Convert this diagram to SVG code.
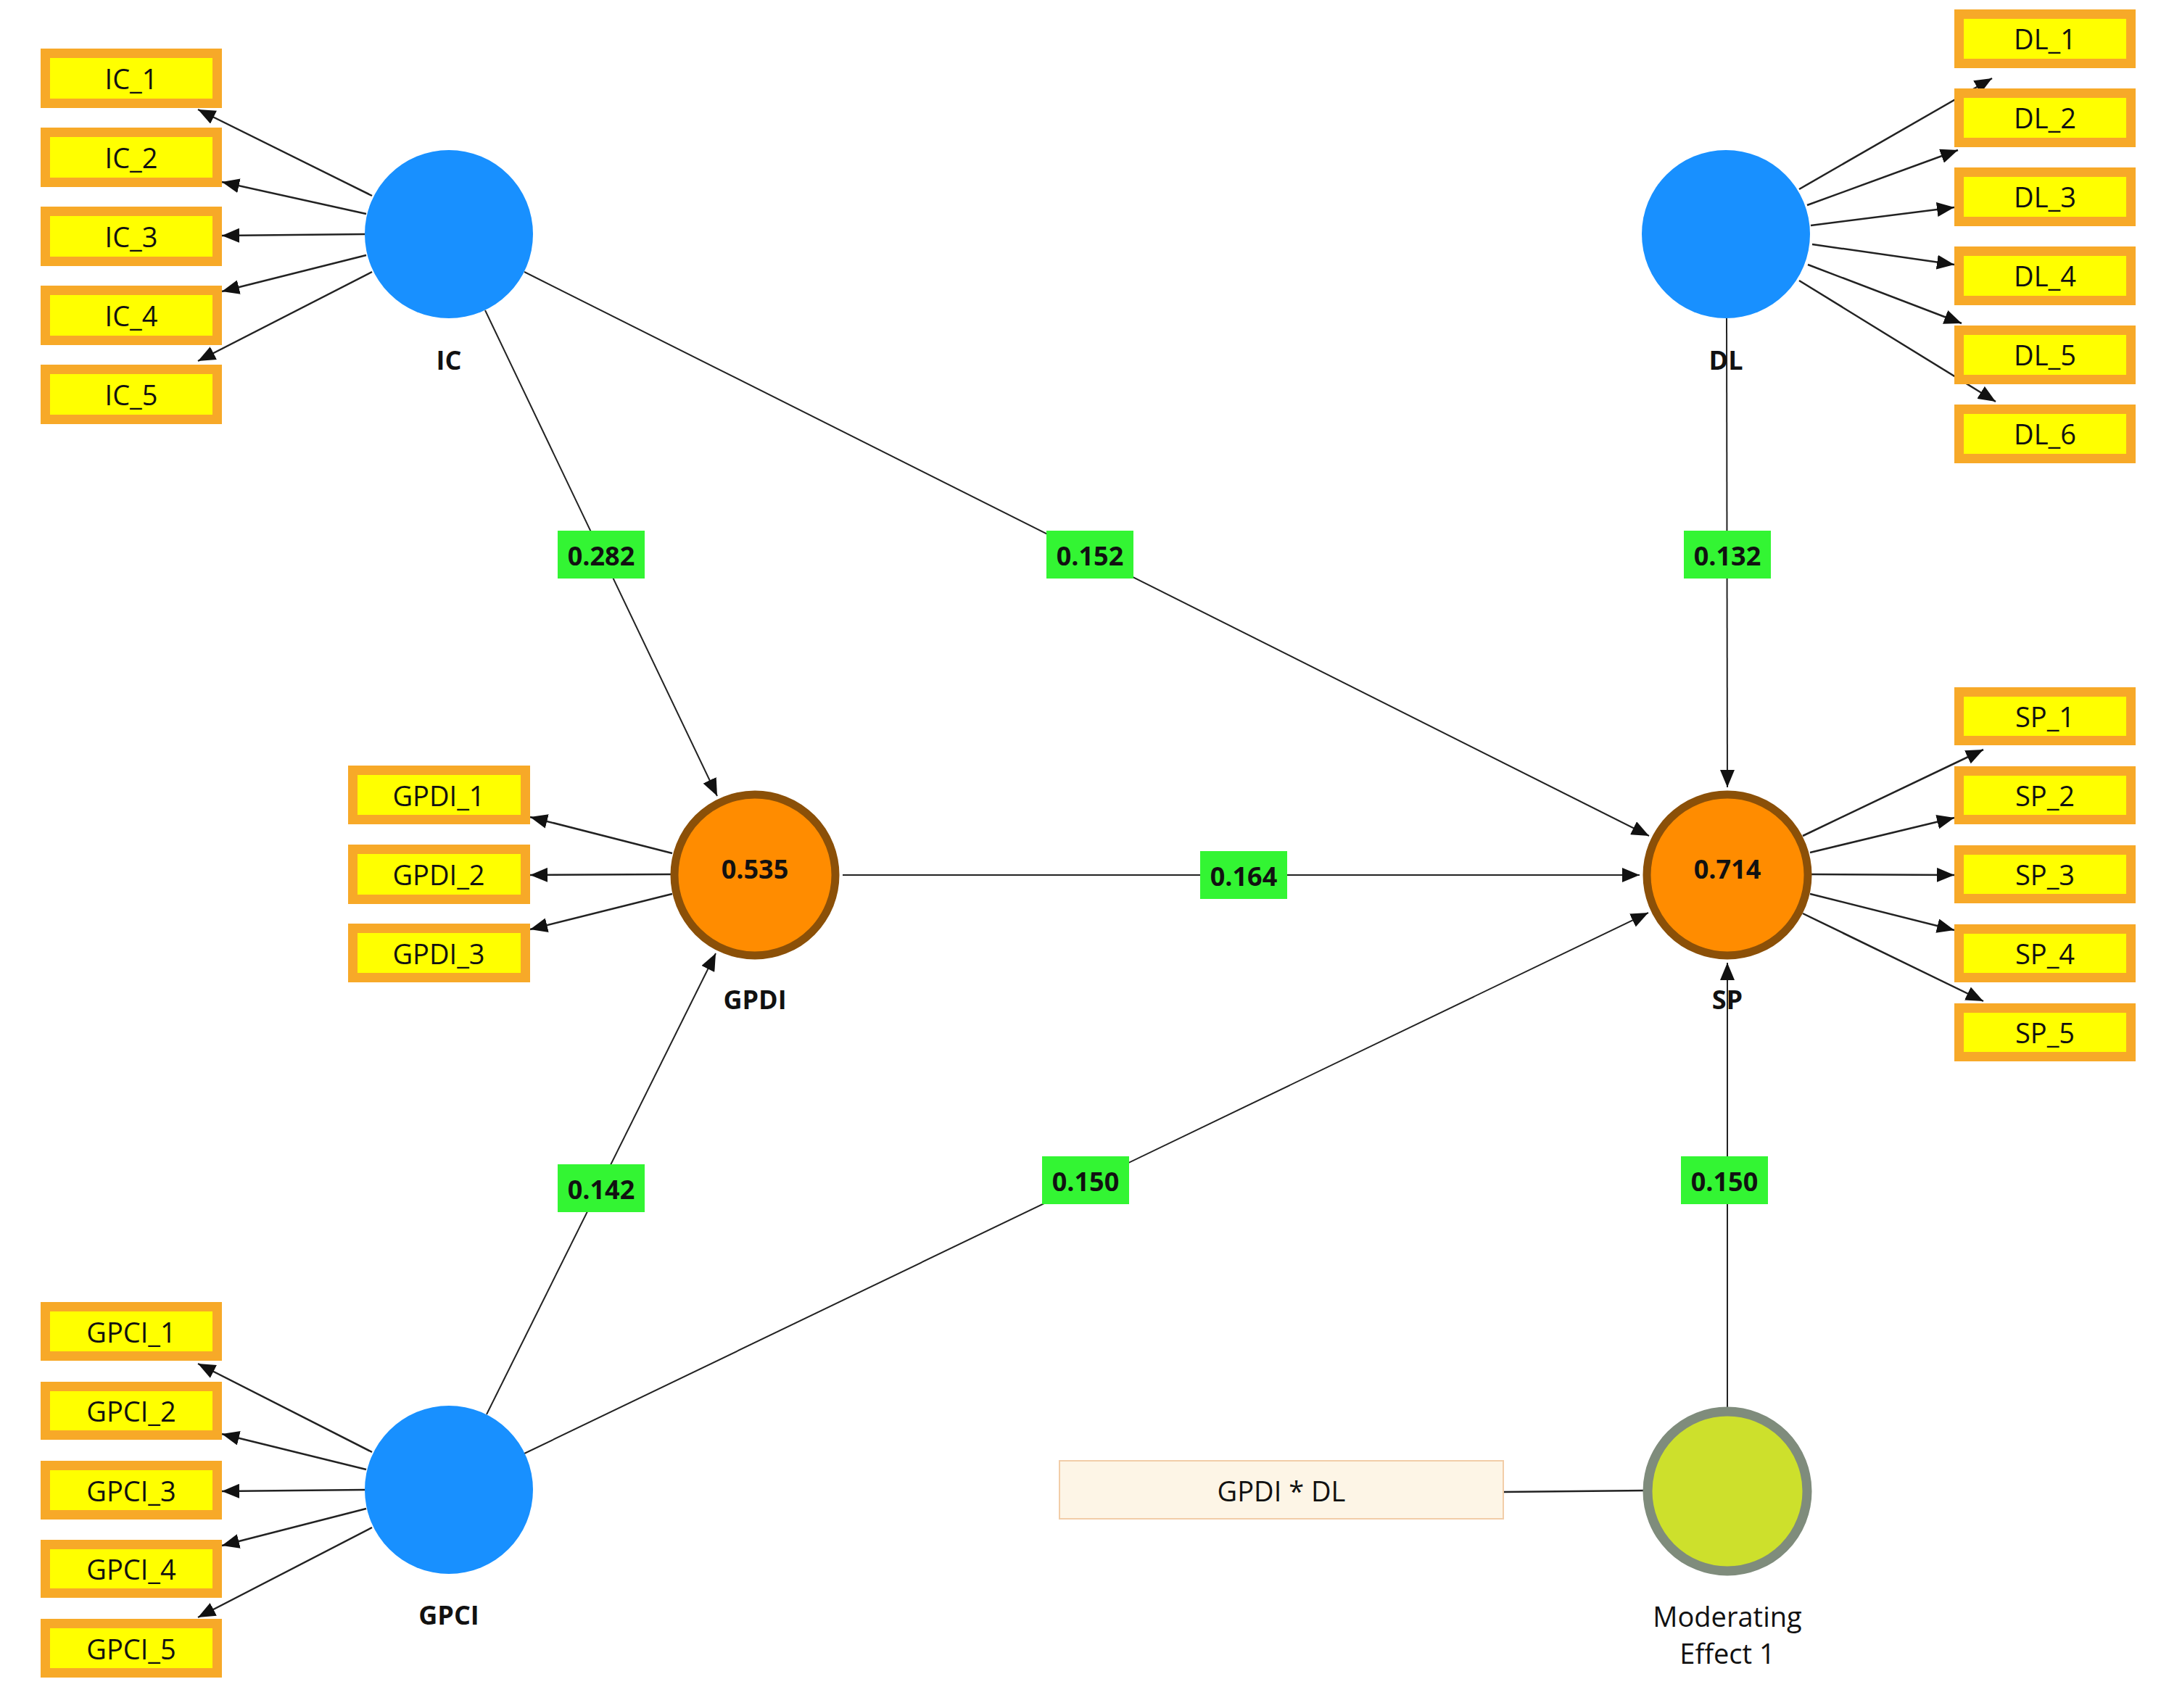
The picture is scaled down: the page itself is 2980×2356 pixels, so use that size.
<svg xmlns="http://www.w3.org/2000/svg" width="2980" height="2356" viewBox="0 0 2980 2356">
<style>
.ind{fill:#FFFF00;stroke:#F7A928;stroke-width:13}
.it{font-family:"Open Sans","Noto Sans",sans-serif;font-size:38px;fill:#111;text-anchor:middle;dominant-baseline:central}
.lv{fill:#1890FF}
.en{fill:#FF8C00;stroke:#8B5008;stroke-width:11}
.ln{font-family:"Open Sans","Noto Sans",sans-serif;font-size:36px;font-weight:bold;fill:#111;text-anchor:middle;dominant-baseline:central}
.cf{fill:#33F533}
.ld{stroke:#222;stroke-width:2.5;fill:none;marker-end:url(#ah)}
.pt{stroke:#222;stroke-width:2;fill:none;marker-end:url(#ah)}
</style>
<defs>
<marker id="ah" markerUnits="userSpaceOnUse" markerWidth="26" markerHeight="20" refX="24" refY="10" orient="auto" viewBox="0 0 26 20">
<path d="M0,0 L24,10 L0,20 z" fill="#111"/>
</marker>
</defs>
<rect width="2980" height="2356" fill="#fff"/>
<g id="connectors">
<line class="ld" x1="513" y1="270" x2="273" y2="151"/>
<line class="ld" x1="505" y1="295" x2="306" y2="251"/>
<line class="ld" x1="503" y1="323" x2="306" y2="325"/>
<line class="ld" x1="505" y1="352" x2="306" y2="402"/>
<line class="ld" x1="513" y1="375" x2="273" y2="498"/>
<line class="ld" x1="2481" y1="261" x2="2747" y2="108"/>
<line class="ld" x1="2492" y1="283" x2="2700" y2="207"/>
<line class="ld" x1="2497" y1="311" x2="2695" y2="286"/>
<line class="ld" x1="2499" y1="337" x2="2695" y2="365"/>
<line class="ld" x1="2493" y1="365" x2="2705" y2="446"/>
<line class="ld" x1="2481" y1="387" x2="2752" y2="554"/>
<line class="ld" x1="927" y1="1177" x2="731" y2="1127"/>
<line class="ld" x1="925" y1="1206" x2="731" y2="1207"/>
<line class="ld" x1="927" y1="1233" x2="731" y2="1282"/>
<line class="ld" x1="2486" y1="1153" x2="2735" y2="1034"/>
<line class="ld" x1="2496" y1="1176" x2="2695" y2="1128"/>
<line class="ld" x1="2498" y1="1206" x2="2695" y2="1207"/>
<line class="ld" x1="2496" y1="1233" x2="2695" y2="1283"/>
<line class="ld" x1="2486" y1="1260" x2="2735" y2="1381"/>
<line class="ld" x1="513" y1="2003" x2="273" y2="1881"/>
<line class="ld" x1="505" y1="2027" x2="306" y2="1978"/>
<line class="ld" x1="503" y1="2055" x2="306" y2="2057"/>
<line class="ld" x1="505" y1="2081" x2="306" y2="2132"/>
<line class="ld" x1="513" y1="2107" x2="273" y2="2231"/>
<line class="pt" x1="669" y1="428" x2="989" y2="1098"/>
<line class="pt" x1="723" y1="375" x2="2274" y2="1153"/>
<line class="pt" x1="2381" y1="439" x2="2382" y2="1086"/>
<line class="pt" x1="1162" y1="1207" x2="2261" y2="1207"/>
<line class="pt" x1="671" y1="1951" x2="987" y2="1315"/>
<line class="pt" x1="723" y1="2005" x2="2273" y2="1259"/>
<line class="pt" x1="2382" y1="1941" x2="2382" y2="1328"/>
<line x1="2073" y1="2058" x2="2268" y2="2056" stroke="#222" stroke-width="2.5"/>
</g>
<g id="coefs">
<rect class="cf" x="769" y="732" width="120" height="66"/><text class="ln" x="829" y="766">0.282</text>
<rect class="cf" x="1443" y="732" width="120" height="66"/><text class="ln" x="1503" y="766">0.152</text>
<rect class="cf" x="2322" y="732" width="120" height="66"/><text class="ln" x="2382" y="766">0.132</text>
<rect class="cf" x="1655" y="1174" width="120" height="66"/><text class="ln" x="1715" y="1208">0.164</text>
<rect class="cf" x="769" y="1606" width="120" height="66"/><text class="ln" x="829" y="1640">0.142</text>
<rect class="cf" x="1437" y="1595" width="120" height="66"/><text class="ln" x="1497" y="1629">0.150</text>
<rect class="cf" x="2318" y="1595" width="120" height="66"/><text class="ln" x="2378" y="1629">0.150</text>
</g>
<g id="IC">
<circle class="lv" cx="619" cy="323" r="116"/><text class="ln" x="619" y="496">IC</text>
<rect class="ind" x="62.5" y="73.5" width="237" height="69"/><text class="it" x="181" y="108">IC_1</text>
<rect class="ind" x="62.5" y="182.5" width="237" height="69"/><text class="it" x="181" y="217">IC_2</text>
<rect class="ind" x="62.5" y="291.5" width="237" height="69"/><text class="it" x="181" y="326">IC_3</text>
<rect class="ind" x="62.5" y="400.5" width="237" height="69"/><text class="it" x="181" y="435">IC_4</text>
<rect class="ind" x="62.5" y="509.5" width="237" height="69"/><text class="it" x="181" y="544">IC_5</text>
</g>
<g id="DL">
<circle class="lv" cx="2380" cy="323" r="116"/><text class="ln" x="2380" y="496">DL</text>
<rect class="ind" x="2701.5" y="19.5" width="237" height="68"/><text class="it" x="2820" y="53">DL_1</text>
<rect class="ind" x="2701.5" y="128.5" width="237" height="68"/><text class="it" x="2820" y="162">DL_2</text>
<rect class="ind" x="2701.5" y="237.5" width="237" height="68"/><text class="it" x="2820" y="271">DL_3</text>
<rect class="ind" x="2701.5" y="346.5" width="237" height="68"/><text class="it" x="2820" y="380">DL_4</text>
<rect class="ind" x="2701.5" y="455.5" width="237" height="68"/><text class="it" x="2820" y="489">DL_5</text>
<rect class="ind" x="2701.5" y="564.5" width="237" height="68"/><text class="it" x="2820" y="598">DL_6</text>
</g>
<g id="GPDI">
<circle class="en" cx="1041" cy="1207" r="111"/><text class="ln" x="1041" y="1198">0.535</text><text class="ln" x="1041" y="1378">GPDI</text>
<rect class="ind" x="486.5" y="1062.5" width="238" height="68"/><text class="it" x="605" y="1097">GPDI_1</text>
<rect class="ind" x="486.5" y="1171.5" width="238" height="69"/><text class="it" x="605" y="1206">GPDI_2</text>
<rect class="ind" x="486.5" y="1280.5" width="238" height="68"/><text class="it" x="605" y="1315">GPDI_3</text>
</g>
<g id="SP">
<circle class="en" cx="2382" cy="1207" r="111"/><text class="ln" x="2382" y="1198">0.714</text><text class="ln" x="2382" y="1378">SP</text>
<rect class="ind" x="2701.5" y="954.5" width="237" height="67"/><text class="it" x="2820" y="988">SP_1</text>
<rect class="ind" x="2701.5" y="1063.5" width="237" height="67"/><text class="it" x="2820" y="1097">SP_2</text>
<rect class="ind" x="2701.5" y="1172.5" width="237" height="67"/><text class="it" x="2820" y="1206">SP_3</text>
<rect class="ind" x="2701.5" y="1281.5" width="237" height="67"/><text class="it" x="2820" y="1315">SP_4</text>
<rect class="ind" x="2701.5" y="1390.5" width="237" height="67"/><text class="it" x="2820" y="1424">SP_5</text>
</g>
<g id="GPCI">
<circle class="lv" cx="619" cy="2055" r="116"/><text class="ln" x="619" y="2227">GPCI</text>
<rect class="ind" x="62.5" y="1802.5" width="237" height="68"/><text class="it" x="181" y="1837">GPCI_1</text>
<rect class="ind" x="62.5" y="1912.5" width="237" height="67"/><text class="it" x="181" y="1946">GPCI_2</text>
<rect class="ind" x="62.5" y="2021.5" width="237" height="68"/><text class="it" x="181" y="2056">GPCI_3</text>
<rect class="ind" x="62.5" y="2130.5" width="237" height="67"/><text class="it" x="181" y="2164">GPCI_4</text>
<rect class="ind" x="62.5" y="2239.5" width="237" height="68"/><text class="it" x="181" y="2274">GPCI_5</text>
</g>
<g id="Moderating">
<circle cx="2382" cy="2057" r="110" fill="#CDE02C" stroke="#7F8C7C" stroke-width="13"/>
<text class="it" x="2382" y="2229">Moderating</text>
<text class="it" x="2382" y="2280">Effect 1</text>
<rect x="1461" y="2015" width="612" height="80" fill="#FDF5E6" stroke="#F2CDA8" stroke-width="2"/>
<text class="it" x="1767" y="2056">GPDI * DL</text>
</g>
</svg>
